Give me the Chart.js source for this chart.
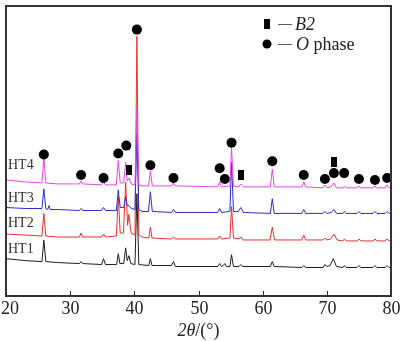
<!DOCTYPE html>
<html>
<head>
<meta charset="utf-8">
<script src="https://cdn.jsdelivr.net/npm/chart.js@4"></script>
<style>
  html, body { margin: 0; padding: 0; background: #fff; }
  #wrap { width: 400px; height: 341px; }
</style>
</head>
<body>
<div id="wrap"><canvas id="xrd" width="400" height="341"></canvas></div>
<script>
// 2theta (deg) / intensity (a.u., patterns stacked with offsets)
var ht1Points = [
  [20,38],[23,36],[25.6,35],[25.9,57],[26.2,35],[28,34],[31.45,33],[31.7,35],[31.95,33],
  [34.9,32],[35.2,38],[35.5,32],[37.25,32],[37.5,43],[37.75,33],[38.35,33],[38.65,49],[38.9,36],
  [39.15,41],[39.45,33],[40.1,32],[40.4,104],[40.7,32],[42.25,31],[42.5,38],[42.75,31],
  [45.8,31],[46.1,35],[46.4,30],[53.0,30],[53.3,33],[53.6,30],[53.85,31],[54.1,33],[54.35,30],
  [54.9,30],[55.15,42],[55.45,30],[56.3,30],[56.6,32],[56.9,30],[61.2,30],[61.5,35],[61.8,30],
  [66.1,29],[66.4,31],[66.7,29],[69.4,29],[69.7,32],[70.0,30],[70.5,31],[71.0,38],[71.5,30],
  [72.5,29],[72.75,31],[73.0,29],[74.7,29],[75.0,31],[75.3,29],[77.2,29],[77.5,31],[77.8,29],
  [79.1,29],[79.4,31],[79.7,29],[80,29]
];
var ht2Points = [
  [20,63],[23,62],[25.6,61],[25.9,84],[26.2,61],[28,60],[31.45,60],[31.7,64],[31.95,60],
  [34.9,60],[35.2,63],[35.5,60],[37.2,61],[37.5,101],[37.8,64],[38.3,64],[38.65,116],[38.95,72],
  [39.15,83],[39.5,64],[40.1,62],[40.4,264],[40.7,62],[41.2,60],[42.25,59],[42.5,70],[42.75,59],
  [45.8,58],[46.1,60],[46.4,58],[53.0,58],[53.3,61],[53.6,58],[54.9,59],[55.15,91],[55.45,59],
  [56.3,58],[56.6,60],[56.9,57],[61.15,57],[61.5,70],[61.85,57],[66.1,57],[66.4,62],[66.7,57],
  [69.4,57],[69.7,59],[70.0,57],[70.6,58],[71.1,63],[71.6,57],[72.5,56],[72.75,58],[73.0,56],
  [74.7,56],[75.0,58],[75.3,56],[77.2,56],[77.5,58],[77.8,56],[79.1,56],[79.4,58],[79.7,56],[80,56]
];
var ht3Points = [
  [20,90],[23,89],[25.6,89],[25.9,109],[26.2,89],[26.5,88],[26.7,92],[26.9,88],[28,88],
  [31.45,87],[31.7,89],[31.95,87],[34.9,87],[35.2,90],[35.5,87],[37.2,87],[37.5,108],[37.8,90],
  [38.35,90],[38.65,101],[38.9,92],[39.15,92],[39.5,89],[40.1,88],[40.4,166],[40.7,88],[41.2,86],
  [42.2,86],[42.5,106],[42.8,86],[45.8,85],[46.1,88],[46.4,85],[53.0,85],[53.3,89],[53.6,85],
  [54.9,86],[55.15,136],[55.45,86],[56.2,86],[56.6,90],[57.0,85],[61.2,84],[61.5,99],[61.8,84],
  [66.1,84],[66.4,88],[66.7,84],[69.4,84],[69.7,86],[70.0,84],[70.7,85],[71.1,88],[71.5,84],
  [72.5,84],[72.75,86],[73.0,84],[74.7,84],[75.0,86],[75.3,84],[77.2,84],[77.5,86],[77.8,84],
  [79.1,84],[79.4,86],[79.7,84],[80,84]
];
var ht4Points = [
  [20,118],[23,116],[25.6,115],[25.9,140],[26.2,115],[28,114],[31.45,114],[31.7,117],[31.95,114],
  [34.9,113],[35.2,117],[35.5,113],[37.2,113],[37.5,138],[37.8,115],[38.35,115],[38.65,136],[38.9,117],
  [39.2,120],[39.5,114],[40.1,113],[40.4,191],[40.7,113],[41.2,112],[42.2,112],[42.5,127],[42.8,112],
  [45.8,112],[46.1,115],[46.4,112],[53.0,111],[53.3,116],[53.6,111],[54.9,112],[55.15,151],[55.45,112],
  [56.2,111],[56.6,114],[57.0,111],[61.2,111],[61.5,129],[61.8,111],[66.1,111],[66.4,116],[66.7,111],
  [69.4,110],[69.7,113],[70.0,110],[70.7,111],[71.1,115],[71.5,110],[72.5,110],[72.75,112],[73.0,110],
  [74.7,110],[75.0,112],[75.3,110],[77.2,110],[77.5,112],[77.8,110],[79.1,110],[79.4,113],[79.7,110],[80,110]
];

var seriesNames = ["HT1", "HT2", "HT3", "HT4"];
var seriesColors = ["#1e1e1e", "#e8302c", "#2b2bd6", "#e445e4"];

// phase markers
var oPhaseTheta = [25.9, 31.7, 35.2, 37.5, 38.75, 40.4, 42.5, 46.1, 53.3, 54.1, 55.15, 61.5, 66.4, 69.7, 71.1, 72.7, 75.0, 77.5, 79.4];
var oPhaseY = [144, 123, 120, 145, 153, 271, 133, 120, 130, 119, 156, 137, 123, 119, 125, 125, 119, 118, 120];
var b2Theta = [39.1, 56.6, 71.1];
var b2Y = [128, 123, 136];

var xTicks = [20, 30, 40, 50, 60, 70, 80];

var serif = "'Liberation Serif', 'Times New Roman', serif";

function toXY(pts) {
  return pts.map(function(p) { return { x: p[0], y: p[1] }; });
}

// tall little black bar used for the B2 marker
var b2Mark = document.createElement("canvas");
b2Mark.width = 6;
b2Mark.height = 10;
var bctx = b2Mark.getContext("2d");
bctx.fillStyle = "#000";
bctx.fillRect(0, 0, 6, 10);

var extras = {
  id: "extras",
  afterDraw: function(chart) {
    var ctx = chart.ctx;
    var a = chart.chartArea;
    var xs = chart.scales.x;
    var ys = chart.scales.y;
    ctx.save();

    // frame
    ctx.strokeStyle = "#333";
    ctx.lineWidth = 2;
    ctx.strokeRect(a.left, a.top, a.right - a.left, a.bottom - a.top);

    // inward ticks + labels
    ctx.lineWidth = 1;
    ctx.fillStyle = "#222";
    ctx.font = "18px " + serif;
    ctx.textAlign = "center";
    ctx.textBaseline = "middle";
    xTicks.forEach(function(v) {
      var px = Math.round(xs.getPixelForValue(v)) + 0.5;
      ctx.beginPath();
      ctx.moveTo(px, a.bottom);
      ctx.lineTo(px, a.bottom - 5);
      ctx.stroke();
      ctx.fillText(String(v), Math.max(px, 10), a.bottom + 13);
    });

    // series names
    var labelY = [47, 74, 99, 133];
    ctx.fillStyle = "#333";
    ctx.font = "14px " + serif;
    ctx.textAlign = "left";
    seriesNames.forEach(function(n, i) {
      ctx.fillText(n, a.left + 2, ys.getPixelForValue(labelY[i]));
    });

    // legend
    var lx = 267;
    ctx.fillStyle = "#000";
    ctx.fillRect(lx - 3, 19, 6, 10);
    ctx.beginPath();
    ctx.arc(lx, 44, 4.5, 0, Math.PI * 2);
    ctx.fill();
    ctx.fillStyle = "#222";
    ctx.font = "14px " + serif;
    ctx.fillText("\u2014", 278, 24);
    ctx.fillText("\u2014", 278, 44);
    ctx.font = "italic 18px " + serif;
    ctx.fillText("B2", 295, 25);
    ctx.fillText("O", 296, 45);
    var ow = ctx.measureText("O").width;
    ctx.font = "18px " + serif;
    ctx.fillText(" phase", 296 + ow, 45);

    // axis title 2θ/(°)
    var parts = [["2\u03b8", "italic 18px "], ["/(\u00b0)", "18px "]];
    var total = 0;
    parts.forEach(function(p) { ctx.font = p[1] + serif; total += ctx.measureText(p[0]).width; });
    var tx = (a.left + a.right) / 2 - total / 2;
    ctx.fillStyle = "#222";
    parts.forEach(function(p) {
      ctx.font = p[1] + serif;
      ctx.fillText(p[0], tx, 331);
      tx += ctx.measureText(p[0]).width;
    });
    ctx.restore();
  }
};

var datasets = [
  {
    type: "scatter", label: "B2",
    data: b2Theta.map(function(t, i) { return { x: t, y: b2Y[i] }; }),
    pointStyle: b2Mark, pointRadius: 5
  },
  {
    type: "scatter", label: "O phase",
    data: oPhaseTheta.map(function(t, i) { return { x: t, y: oPhaseY[i] }; }),
    pointStyle: "circle", pointRadius: 5, backgroundColor: "#000", borderColor: "#000", borderWidth: 0
  }
];
var allPoints = [ht1Points, ht2Points, ht3Points, ht4Points];
for (var i = 3; i >= 0; i--) {
  datasets.push({
    type: "line", label: seriesNames[i], data: toXY(allPoints[i]),
    borderColor: seriesColors[i], borderWidth: 1, pointRadius: 0, tension: 0, fill: false
  });
}

new Chart(document.getElementById("xrd"), {
  data: { datasets: datasets },
  plugins: [extras],
  options: {
    responsive: false,
    animation: false,
    events: [],
    layout: { padding: { left: 6, right: 9, top: 1, bottom: 0 } },
    plugins: { legend: { display: false }, tooltip: { enabled: false } },
    scales: {
      x: {
        type: "linear", min: 20, max: 80,
        afterFit: function(s) { s.height = 45; },
        grid: { display: false, drawTicks: false },
        border: { display: false },
        ticks: { display: false }
      },
      y: {
        min: 0, max: 295,
        afterFit: function(s) { s.width = 0; },
        grid: { display: false, drawTicks: false },
        border: { display: false },
        ticks: { display: false }
      }
    }
  }
});
</script>
</body>
</html>
